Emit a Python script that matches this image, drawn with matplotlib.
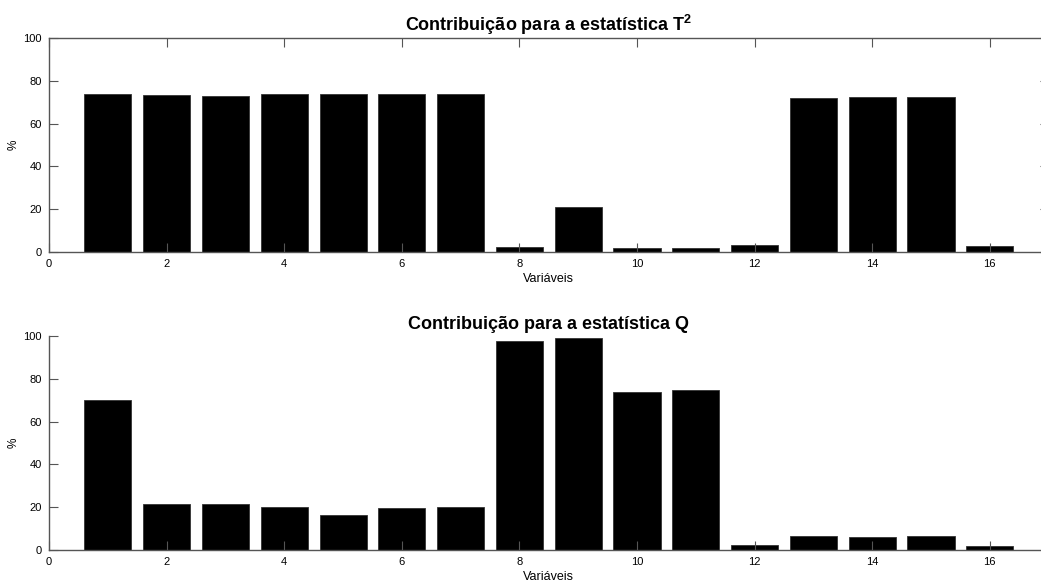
import numpy as np
import matplotlib
matplotlib.use('Agg')
import matplotlib.pyplot as plt

plt.rcParams['font.family'] = ['Liberation Sans', 'DejaVu Sans']
plt.rcParams['mathtext.fontset'] = 'custom'
plt.rcParams['mathtext.rm'] = 'Liberation Sans:bold'
plt.rcParams['mathtext.bf'] = 'Liberation Sans:bold'

variables = np.arange(1, 17)
contrib_t2 = [74.0, 73.6, 72.8, 73.9, 73.9, 74.0, 74.0, 2.2,
              20.8, 1.9, 1.7, 3.4, 72.0, 72.6, 72.3, 2.6]
contrib_q = [69.9, 21.7, 21.7, 20.1, 16.4, 19.8, 20.1, 97.5,
             99.2, 74.0, 74.9, 2.3, 6.4, 6.1, 6.4, 2.0]
titles = ['Contribuição para a estatística T$^{\\mathrm{2}}$', 'Contribuição para a estatística Q']
xticks = [0, 2, 4, 6, 8, 10, 12, 14, 16]
yticks = [0, 20, 40, 60, 80, 100]

fig = plt.figure(figsize=(10.41, 5.84), dpi=100)
ax1 = fig.add_axes([0.0471, 0.5685, 0.9602, 0.3664])
ax2 = fig.add_axes([0.0471, 0.0582, 0.9602, 0.3664])

spine_col = '#555555'
for ax, vals, title, box in [(ax1, contrib_t2, titles[0], True), (ax2, contrib_q, titles[1], False)]:
    ax.bar(variables, vals, width=0.8, color='black', edgecolor='#333333', linewidth=0.6)
    ax.set_xlim(0, 17)
    ax.set_ylim(0, 100)
    ax.set_xticks(xticks)
    ax.set_yticks(yticks)
    ax.set_title(title, fontsize=13, fontweight='bold', pad=5)
    ax.set_xlabel('Variáveis', fontsize=9, labelpad=3)
    ax.set_ylabel('%', fontsize=8.5, labelpad=3)
    ax.tick_params(direction='in', length=6.5, width=0.8, color=spine_col, labelsize=8,
                   top=box, right=box, pad=5)
    for s in ax.spines.values():
        s.set_color(spine_col)
        s.set_linewidth(1.0)
    if not box:
        ax.spines['top'].set_visible(False)
        ax.spines['right'].set_visible(False)

fig.savefig('out.png', dpi=100)
